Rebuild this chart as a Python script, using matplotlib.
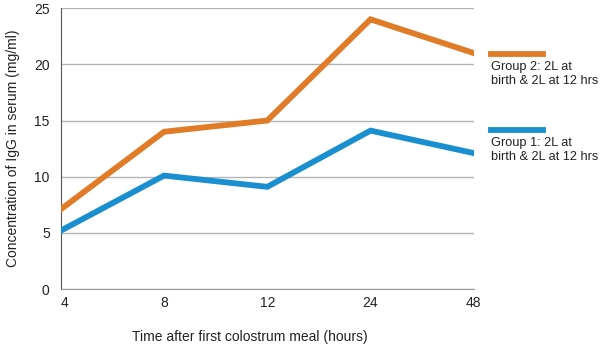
import matplotlib
matplotlib.use("Agg")
import matplotlib.pyplot as plt

# datos
hours = ["4", "8", "12", "24", "48"]
group2 = [7.1, 14.0, 15.0, 24.0, 21.0]
group1 = [5.2, 10.1, 9.1, 14.1, 12.1]
label2 = "Group 2: 2L at\nbirth & 2L at 12 hrs"
label1 = "Group 1: 2L at\nbirth & 2L at 12 hrs"
yticks = [0, 5, 10, 15, 20, 25]

orange = "#E07B28"
blue = "#1A8FD0"

plt.rcParams["font.family"] = ["Liberation Sans", "DejaVu Sans"]

fig = plt.figure(figsize=(6.02, 3.53), dpi=100)
ax = fig.add_axes([0.101, 0.181, 0.686, 0.796])

x = list(range(len(hours)))
ax.plot(x, group2, color=orange, lw=4.2, solid_joinstyle="miter", zorder=3)
ax.plot(x, group1, color=blue, lw=4.2, solid_joinstyle="miter", zorder=3)

ax.set_xlim(0, len(hours) - 1)
ax.set_ylim(0, 25)
ax.set_yticks(yticks)
ax.set_xticks(x)
ax.set_xticklabels(hours)
ax.tick_params(length=0, labelsize=10, colors="#222222")
ax.tick_params(axis="x", pad=5)
ax.tick_params(axis="y", pad=8)
for lbl in ax.get_xticklabels()[:1]:
    lbl.set_horizontalalignment("left")
ax.grid(axis="y", color="#b4b4b4", lw=1)
ax.set_axisbelow(True)

for s in ["top", "right"]:
    ax.spines[s].set_visible(False)
ax.spines["left"].set_color("#555555")
ax.spines["bottom"].set_color("#999999")

ax.set_ylabel("Concentration of IgG in serum (mg/ml)", fontsize=10, color="#222222", labelpad=10)
fig.text(0.415, 0.035, "Time after first colostrum meal (hours)", fontsize=10,
         color="#222222", ha="center")

# leyenda manual
for yl, col, lab in [(0.847, orange, label2), (0.632, blue, label1)]:
    fig.add_artist(plt.Line2D([0.815, 0.902], [yl, yl], color=col, lw=4.2))
    fig.text(0.815, yl - 0.02, lab, fontsize=9.2, color="#222222", va="top",
             linespacing=1.2)

fig.savefig("out.png", dpi=100)
